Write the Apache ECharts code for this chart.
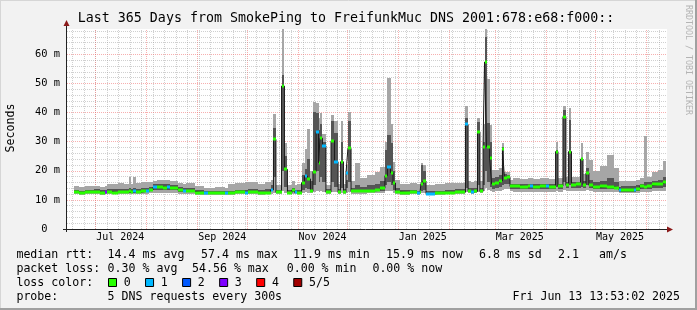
<!DOCTYPE html>
<html><head><meta charset="utf-8">
<script src="https://cdn.jsdelivr.net/npm/echarts@6/dist/echarts.min.js"></script>
<style>html,body{margin:0;padding:0;background:#f2f2f2}#c{width:697px;height:310px}</style>
</head><body><div id="c"></div>
<script>
// ---------- data ----------
const START = Date.UTC(2024, 5, 13, 13, 53, 2);   // Jun 13 2024 13:53:02
const SPAN_DAYS = 365;
// segment start (days since START); each segment lasts until the next start
const segStart = [4.3,7.3,11.0,16.4,20.1,23.1,24.3,27.4,31.0,34.7, 37.7,38.9,40.1,42.0,45.0,48.1,49.9,52.3,54.7,58.4, 60.8,62.7,67.5,70.6,72.4,77.9,83.3,85.8,90.0,96.1, 97.9,102.2,108.3,110.1,116.2,120.4,123.8,125.6,127.1,130.5, 132.3,134.1,136.9,138.4,139.9,142.7,144.5,146.3,148.1,149.6, 151.5,153.0,153.9,155.4,157.5,160.6,162.7,164.9,166.4,168.2, 169.7,170.9,172.8,175.2,178.2,182.5,187.4,190.4,193.4,194.9, 196.8,198.3,199.8,202.6,208.6,212.9,214.7,215.3,216.6,218.4, 223.9,229.9,236.0,242.4,244.0,245.8,247.6,249.7,251.2,253.1, 254.0,255.2,257.1,258.3,260.4,262.8,264.9,266.1,267.6,269.5, 271.3,275.6,280.4,281.6,283.5,287.7,291.4,293.2,297.2,298.7, 301.7,303.5,305.1,306.9,309.6,312.4,313.9,315.7,317.5,320.0, 324.2,328.5,332.7,335.8,337.0,344.9,346.1,348.5,351.3,352.8, 355.9,359.5,362.5];
const lastSegEnd = 364.4;
// smoke (ms): min, lower, upper, max
const smokeMin = [11.9,11.8,11.9,12.0,11.8,11.9,12.0,11.9,12.0,11.9, 12.0,11.9,12.0,11.9,12.0,12.1,12.2,12.4,12.5,12.4, 12.5,12.4,12.1,12.0,11.9,11.8,11.6,11.7,11.7,11.6, 11.8,11.9,11.9,11.9,11.8,11.9,12.1,12.5,11.9,13.0, 12.5,11.9,12.1,11.9,11.9,12.4,12.6,12.5,12.2,12.6, 13.0,12.8,13.0,12.8,11.9,12.8,12.6,11.9,12.5,11.9, 12.4,12.8,12.0,12.1,12.0,12.2,12.3,12.4,13.0,13.0, 13.0,12.5,12.0,11.8,11.9,11.8,12.0,12.5,12.5,11.7, 11.8,11.9,11.9,12.8,12.2,12.1,12.2,12.8,12.2,13.0, 14.0,13.5,13.2,12.8,13.0,13.2,13.5,13.6,13.6,12.9, 12.8,12.7,12.8,12.8,12.7,12.8,12.8,12.7,13.0,12.8, 13.5,12.9,13.2,12.9,12.9,13.0,13.0,13.3,13.0,12.7, 12.8,12.8,12.7,12.2,12.2,12.2,12.4,12.6,12.8,12.8, 13.0,13.0,13.2];
const smokeLo = [12.3,12.2,12.3,12.4,12.2,12.3,12.4,12.3,12.5,12.4, 12.6,12.4,12.5,12.4,12.6,12.7,12.9,13.3,13.5,13.4, 13.5,13.3,12.8,12.6,12.6,12.3,12.0,12.1,12.2,12.0, 12.2,12.3,12.4,12.4,12.3,12.4,13.0,18.0,12.4,20.0, 14.5,12.4,12.6,12.4,12.4,13.5,14.0,13.6,12.8,15.0, 20.0,16.0,18.0,16.0,12.4,16.0,14.5,12.4,14.0,12.4, 14.0,16.0,12.6,12.7,12.6,12.8,13.0,13.2,15.0,16.0, 15.0,13.5,12.4,12.2,12.3,12.1,12.4,13.0,13.5,12.0, 12.2,12.3,12.4,14.0,12.8,12.6,12.8,15.0,12.8,15.0, 20.0,16.0,14.5,13.8,14.2,14.5,15.0,15.5,15.5,13.8, 13.8,13.7,13.9,13.8,13.7,13.9,13.8,13.7,14.5,13.9, 16.0,14.0,15.0,14.0,14.0,14.5,14.0,15.0,14.0,13.6, 13.7,13.8,13.6,12.8,12.8,12.8,13.2,13.6,13.8,13.8, 14.0,14.2,14.5];
const smokeHi = [13.4,13.2,13.5,13.6,13.3,13.5,13.8,13.6,13.9,13.7, 14.2,13.7,14.0,13.8,14.0,14.2,14.5,15.3,15.5,15.4, 15.6,15.2,14.3,14.0,14.0,13.4,12.9,13.0,13.1,12.9, 13.2,13.4,13.5,13.6,13.4,13.6,15.0,34.6,13.5,52.9, 25.0,13.5,14.0,13.4,13.5,18.5,20.7,24.2,16.5,40.3, 39.7,34.0,36.0,30.0,13.6,37.0,33.0,13.6,30.0,13.6, 17.0,37.0,14.0,15.0,14.5,15.0,15.5,16.5,27.0,32.3, 29.5,20.0,14.0,13.3,13.5,13.2,13.8,22.0,20.0,13.0, 13.2,13.4,13.6,38.0,14.2,14.0,14.2,36.9,14.2,30.0, 66.0,36.3,30.0,17.5,18.0,18.5,28.0,18.8,18.6,15.6, 15.5,15.4,15.6,15.5,15.4,15.6,15.5,15.4,27.0,15.6, 40.9,16.0,37.4,16.0,16.2,24.3,16.5,21.0,17.0,16.0, 16.5,17.5,16.3,14.5,14.6,14.6,15.0,15.5,16.0,16.0, 16.5,17.0,18.0];
const smokeMax = [14.6,14.3,14.7,14.9,14.5,14.6,15.6,15.4,15.8,15.4, 18.0,15.6,17.8,15.7,16.0,16.2,16.3,16.6,16.8,16.7, 16.8,16.6,15.9,15.5,15.7,14.8,14.0,14.1,14.3,14.2, 15.5,15.8,16.0,16.2,15.6,16.0,17.0,39.4,15.0,68.7, 29.6,15.0,16.5,15.2,15.5,22.6,27.5,34.4,20.0,43.7, 43.2,38.0,40.0,32.5,15.0,39.2,37.1,15.5,37.2,15.5, 22.0,40.1,16.5,22.6,17.5,18.5,19.5,21.4,30.0,51.8, 36.0,23.0,17.0,15.5,15.7,15.3,16.0,22.5,22.0,15.0, 15.5,15.7,15.8,42.4,16.4,16.2,16.4,38.0,16.4,36.0, 68.7,51.4,35.7,20.3,20.3,21.0,29.7,19.7,19.5,17.0, 17.4,17.2,17.5,17.4,17.3,17.6,17.4,17.2,30.0,17.5, 42.2,18.0,41.5,18.0,18.0,29.4,19.0,26.6,23.7,20.0, 21.5,25.4,21.0,16.5,16.6,16.5,17.0,17.5,32.1,18.0, 19.5,20.3,23.4];
const medianRtt = [12.6,12.5,12.6,12.7,12.4,12.6,12.8,12.5,12.8,12.6, 12.9,12.6,12.9,12.6,12.9,13.1,13.4,14.3,14.4,14.1, 14.3,14.0,13.3,13.0,12.9,12.5,12.2,12.3,12.4,12.2, 12.5,12.6,12.5,12.6,12.4,12.5,13.4,30.8,12.6,49.1, 20.5,12.5,13.5,12.6,12.5,15.9,18.1,17.2,13.0,19.7, 33.2,22.8,31.2,28.6,12.6,30.3,23.1,12.6,23.1,12.6, 19.1,27.7,12.9,13.2,12.9,13.1,13.3,14.0,18.3,21.4, 19.3,15.8,12.8,12.5,12.6,12.2,12.6,15.5,16.5,12.1, 12.4,12.5,12.6,35.9,12.9,12.7,12.9,33.4,12.9,28.3, 57.4,28.3,24.3,15.5,15.9,16.5,27.5,17.6,17.8,14.6, 14.8,14.5,14.9,14.7,14.5,14.9,14.7,14.5,26.6,14.8, 38.6,15.0,26.6,15.2,15.3,24.0,15.2,19.3,15.0,14.3, 14.6,14.5,14.2,13.3,13.4,13.5,13.8,14.6,14.5,14.9, 15.3,15.6,16.0];
const lossIdx = [0,0,0,0,0,3,0,0,0,0, 0,0,1,0,0,1,0,1,0,0, 1,0,0,1,0,0,1,0,0,1, 0,0,1,0,0,0,1,0,0,0, 0,0,0,1,0,0,1,0,0,0, 1,0,0,1,0,0,1,0,0,0, 1,0,0,0,0,0,0,0,0,1, 0,0,0,0,0,1,0,0,0,1, 0,0,0,1,0,1,0,0,0,0, 0,0,0,0,0,0,0,0,0,0, 0,0,0,1,0,0,1,0,0,0, 0,0,0,0,0,0,0,0,0,0, 0,0,0,1,0,1,0,0,0,0, 0,0,0];
const lossColors = ['#26ff00','#00b8ff','#0059ff','#7e00ff','#ff0000','#a10000'];
const lossLabels = ['0','1','2','3','4','5/5'];
const monthLabels = ['Jul 2024','Sep 2024','Nov 2024','Jan 2025','Mar 2025','May 2025'];
const monthLabelYM = [[2024,6],[2024,8],[2024,10],[2025,0],[2025,2],[2025,4]];
const Y_MAX = 68.7;
const titleText = 'Last 365 Days from SmokePing to FreifunkMuc DNS 2001:678:e68:f000::';
const rttStats = ['14.4 ms avg','57.4 ms max','11.9 ms min','15.9 ms now','6.8 ms sd','2.1','am/s'];
const lossStats = ['0.30 % avg','54.56 % max','0.00 % min','0.00 % now'];
const probeText = '5 DNS requests every 300s';
const dateText = 'Fri Jun 13 13:53:02 2025';

// ---------- build ----------
const DAY = 864e5;
const dayOf = ms => (ms - START) / DAY;
const rows = segStart.map((s, i) => [s, i + 1 < segStart.length ? segStart[i + 1] : lastSegEnd,
  smokeMin[i], smokeLo[i], smokeHi[i], smokeMax[i], medianRtt[i], lossIdx[i]]);
const medLine = segStart.map((s, i) => [s, medianRtt[i]]);
medLine.push([lastSegEnd, medianRtt[medianRtt.length - 1]]);
const labelPos = monthLabelYM.map(([y, m]) => dayOf(Date.UTC(y, m, 1)) + 15);

const MINOR = 'rgba(150,150,150,0.45)';
const MAJOR = 'rgba(240,110,110,0.55)';
const gridLines = [];
for (let t = Date.UTC(2024, 5, 17); t < START + SPAN_DAYS * DAY; t += 7 * DAY)
  gridLines.push({xAxis: dayOf(t), lineStyle: {color: MINOR, type: [1, 1], width: 1}});
for (let k = 0; k < 12; k++) {
  const t = Date.UTC(2024, 6 + k, 1);
  gridLines.push({xAxis: dayOf(t), lineStyle: {color: MAJOR, type: [1, 1], width: 1}});
}
for (let v = 2; v < Y_MAX; v += 2) {
  const major = v % 10 === 0;
  gridLines.push({yAxis: v, lineStyle: {color: major ? MAJOR : MINOR, type: [1, 1], width: 1}});
}

function smokeItem(params, api) {
  const t0 = api.value(0), t1 = api.value(1);
  const a = api.coord([t0, api.value(2)]), b = api.coord([t1, api.value(5)]);
  const c = api.coord([t0, api.value(3)]), d = api.coord([t1, api.value(4)]);
  const x0 = Math.round(a[0]), x1 = Math.round(b[0]);
  const yb = Math.round(a[1]), yt = Math.round(b[1]);
  const yb2 = Math.round(c[1]), yt2 = Math.round(d[1]);
  return {type: 'group', children: [
    {type: 'rect', shape: {x: x0, y: yt, width: x1 - x0, height: Math.max(1, yb - yt)}, style: {fill: '#a6a6a6'}},
    {type: 'rect', shape: {x: x0, y: yt2, width: x1 - x0, height: Math.max(1, yb2 - yt2)}, style: {fill: '#555555'}}
  ]};
}
function tickItem(params, api) {
  const t0 = api.value(0), t1 = api.value(1);
  const a = api.coord([t0, api.value(6)]), b = api.coord([t1, api.value(6)]);
  const x0 = Math.round(a[0]), x1 = Math.round(b[0]);
  return {type: 'rect', shape: {x: x0, y: Math.round(a[1]) - 1.5, width: x1 - x0, height: 3},
    style: {fill: lossColors[api.value(7)]}};
}

const MONO = '"DejaVu Sans Mono", monospace';
const g = [];
const txt = (x, y, text, size, extra) => g.push(Object.assign({type: 'text', x, y, silent: true,
  style: {text, font: size + 'px ' + MONO, fill: '#000', align: 'left', verticalAlign: 'middle'}}, extra || {}));
// frame
g.push({type: 'line', silent: true, shape: {x1: 0, y1: 0.5, x2: 697, y2: 0.5}, style: {stroke: '#d6d6d6'}});
g.push({type: 'line', silent: true, shape: {x1: 0.5, y1: 0, x2: 0.5, y2: 310}, style: {stroke: '#d6d6d6'}});
g.push({type: 'rect', silent: true, shape: {x: 695, y: 0, width: 2, height: 310}, style: {fill: '#a0a0a0'}});
g.push({type: 'rect', silent: true, shape: {x: 0, y: 308, width: 697, height: 2}, style: {fill: '#a0a0a0'}});
// axes
g.push({type: 'line', silent: true, z: 50, shape: {x1: 66.5, y1: 232, x2: 66.5, y2: 24}, style: {stroke: '#222', lineWidth: 1}});
g.push({type: 'polygon', silent: true, z: 50, shape: {points: [[63.5, 26], [69.5, 26], [66.5, 20]]}, style: {fill: '#8b1a1a'}});
g.push({type: 'line', silent: true, z: 50, shape: {x1: 63, y1: 229.5, x2: 668, y2: 229.5}, style: {stroke: '#222', lineWidth: 1}});
g.push({type: 'polygon', silent: true, z: 50, shape: {points: [[667, 226.5], [667, 232.5], [673, 229.5]]}, style: {fill: '#8b1a1a'}});
// titles
g.push({type: 'text', x: 346, y: 19, silent: true,
  style: {text: titleText, font: '13.3px ' + MONO, fill: '#000', align: 'center', verticalAlign: 'middle'}});
g.push({type: 'text', x: 11, y: 128, rotation: Math.PI / 2, silent: true,
  style: {text: 'Seconds', font: '11.6px ' + MONO, fill: '#000', align: 'center', verticalAlign: 'middle'}});
g.push({type: 'text', x: 688.5, y: 60, rotation: -Math.PI / 2, silent: true,
  style: {text: 'RRDTOOL / TOBI OETIKER', font: '8.3px ' + MONO, fill: '#b4b4b4', align: 'center', verticalAlign: 'middle'}});
// legend
const LF = 11.6;
txt(16.4, 254.5, 'median rtt:', LF);
[107.6, 201, 293, 386, 479, 558, 599].forEach((x, i) => txt(x, 254.5, rttStats[i], LF));
txt(16.4, 268.5, 'packet loss:', LF);
[107.6, 192, 286.7, 372.4].forEach((x, i) => txt(x, 268.5, lossStats[i], LF));
txt(16.4, 282.5, 'loss color:', LF);
lossColors.forEach((c, i) => {
  const bx = 108.5 + i * 37.05;
  g.push({type: 'rect', silent: true, shape: {x: bx, y: 278.5, width: 8, height: 8}, style: {fill: c, stroke: '#000', lineWidth: 1}});
  txt(bx + 15.2, 282.5, lossLabels[i], LF);
});
txt(16.4, 296.5, 'probe:', LF);
txt(107.6, 296.5, probeText, LF);
g.push({type: 'text', x: 680, y: 296.5, silent: true, style: {text: dateText, font: LF + 'px ' + MONO, fill: '#000', align: 'right', verticalAlign: 'middle'}});

const chart = echarts.init(document.getElementById('c'), null, {renderer: 'canvas', width: 697, height: 310});
chart.setOption({
  animation: false,
  backgroundColor: '#f2f2f2',
  grid: {left: 67, top: 29, width: 600, height: 200, show: true, backgroundColor: '#ffffff', borderWidth: 0, containLabel: false, outerBoundsMode: 'none'},
  xAxis: {type: 'value', min: 0, max: SPAN_DAYS, axisLine: {show: false}, axisTick: {show: false}, splitLine: {show: false},
    axisLabel: {customValues: labelPos, margin: 3, fontFamily: MONO, fontSize: 10, color: '#000',
      formatter: v => { const i = labelPos.findIndex(p => Math.abs(p - v) < 1e-6); return i >= 0 ? monthLabels[i] : ''; }}},
  yAxis: {type: 'value', min: 0, max: Y_MAX, interval: 10, axisLine: {show: false}, axisTick: {show: false}, splitLine: {show: false},
    axisLabel: {showMaxLabel: false, margin: 7, fontFamily: MONO, fontSize: 10.4, color: '#000',
      formatter: v => (Math.abs(v % 10) > 1e-6 ? '' : (v === 0 ? '0\u00a0\u00a0' : v + ' m'))}},
  graphic: {elements: g},
  series: [
    {type: 'line', data: [], silent: true, z: 1,
      markLine: {silent: true, z: 1, symbol: ['none', 'none'], label: {show: false}, emphasis: {disabled: true}, animation: false, data: gridLines}},
    {type: 'custom', z: 2, silent: true, renderItem: smokeItem, data: rows, encode: {x: [0, 1], y: [2, 5]}},
    {type: 'line', z: 3, silent: true, data: medLine, step: 'end', showSymbol: false, symbol: 'none',
      lineStyle: {color: '#1a1a1a', width: 1}},
    {type: 'custom', z: 4, silent: true, renderItem: tickItem, data: rows, encode: {x: [0, 1], y: 6}}
  ]
});
</script>
</body></html>
